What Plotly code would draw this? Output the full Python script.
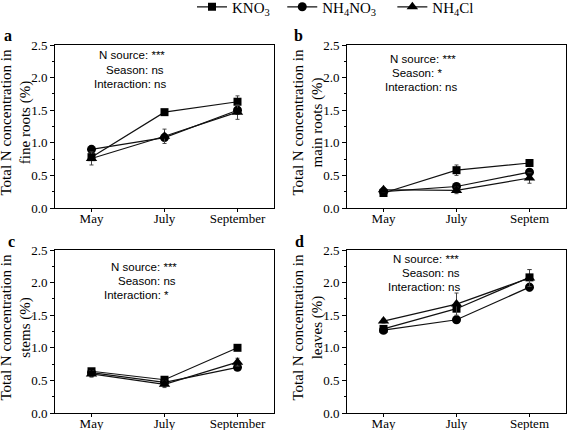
import plotly.graph_objects as go

W, H = 568, 430

months = ["May", "July", "September"]
tick_left = ["May", "July", "September"]
tick_right = ["May", "July", "Septem"]

series_names = ["KNO<sub>3</sub>", "NH<sub>4</sub>NO<sub>3</sub>", "NH<sub>4</sub>Cl"]
legend_pad = ["\u00a0\u00a0", "\u00a0\u00a0\u00a0", ""]

# Panel a: fine roots
a_kno3 = [0.78, 1.47, 1.63]
a_nh4no3 = [0.90, 1.08, 1.50]
a_nh4cl = [0.76, 1.10, 1.47]
a_kno3_err = [0.03, 0.02, 0.09]
a_nh4no3_err = [0.03, 0.04, 0.05]
a_nh4cl_err = [0.10, 0.11, 0.11]

# Panel b: main roots
b_kno3 = [0.23, 0.58, 0.69]
b_nh4no3 = [0.25, 0.33, 0.55]
b_nh4cl = [0.28, 0.27, 0.46]
b_kno3_err = [0.02, 0.08, 0.03]
b_nh4no3_err = [0.02, 0.04, 0.04]
b_nh4cl_err = [0.03, 0.05, 0.08]

# Panel c: stems
c_kno3 = [0.64, 0.51, 1.00]
c_nh4no3 = [0.62, 0.47, 0.70]
c_nh4cl = [0.60, 0.44, 0.78]
c_kno3_err = [0.03, 0.03, 0.04]
c_nh4no3_err = [0.02, 0.03, 0.03]
c_nh4cl_err = [0.05, 0.05, 0.06]

# Panel d: leaves
d_kno3 = [1.29, 1.60, 2.08]
d_nh4no3 = [1.27, 1.43, 1.93]
d_nh4cl = [1.41, 1.67, 2.07]
d_kno3_err = [0.03, 0.04, 0.12]
d_nh4no3_err = [0.03, 0.04, 0.06]
d_nh4cl_err = [0.03, 0.17, 0.13]

ylabels = [
    "Total N concentration in<br>fine roots (%)",
    "Total N concentration in<br>main roots (%)",
    "Total N concentration in<br>stems (%)",
    "Total N concentration in<br>leaves (%)",
]
letters = ["a", "b", "c", "d"]
stats = [
    ["N source: ***", "Season: ns", "Interaction: ns"],
    ["N source: ***", "Season: *", "Interaction: ns"],
    ["N source: ***", "Season: ns", "Interaction: *"],
    ["N source: ***", "Season: ns", "Interaction: ns"],
]

panels = [
    ([a_kno3, a_nh4no3, a_nh4cl], [a_kno3_err, a_nh4no3_err, a_nh4cl_err]),
    ([b_kno3, b_nh4no3, b_nh4cl], [b_kno3_err, b_nh4no3_err, b_nh4cl_err]),
    ([c_kno3, c_nh4no3, c_nh4cl], [c_kno3_err, c_nh4no3_err, c_nh4cl_err]),
    ([d_kno3, d_nh4no3, d_nh4cl], [d_kno3_err, d_nh4no3_err, d_nh4cl_err]),
]

def px(x):
    return x / W

def py(y):
    return 1 - y / H

# layout geometry (pixels)
xdom = [(55, 274), (347, 566), (55, 274), (347, 566)]
ydom = [(45, 208), (45, 208), (250, 413), (250, 413)]
letter_pos = [(8, 36), (298, 36), (11, 241), (299, 241)]
ylab_x = [16, 308, 16, 308]
stat_pos = [
    [(132, 55), (135, 70), (130, 84)],
    [(423, 59), (417, 73), (421, 87)],
    [(144, 267), (147, 281), (136, 295)],
    [(426, 259), (431, 273), (424, 287)],
]

symbols = ["square", "circle", "triangle-up"]
sizes = [8, 9, 10]

serif = "Liberation Serif"
sans = "Liberation Sans"

fig = go.Figure()
annotations = []

for i, (vals, errs) in enumerate(panels):
    xa = "x" if i == 0 else f"x{i+1}"
    ya = "y" if i == 0 else f"y{i+1}"
    for j in range(3):
        fig.add_trace(go.Scatter(
            x=months, y=vals[j], xaxis=xa, yaxis=ya,
            mode="lines+markers",
            name=series_names[j] + legend_pad[j],
            showlegend=(i == 0),
            line=dict(color="#111111", width=1.2),
            marker=dict(symbol=symbols[j], size=sizes[j], color="#000000"),
            error_y=dict(type="data", array=errs[j], visible=True,
                         color="#444444", thickness=1, width=2),
        ))
    axn = "" if i == 0 else str(i + 1)
    fig.layout["xaxis" + axn] = dict(
        domain=[px(xdom[i][0]), px(xdom[i][1])],
        anchor=ya, type="category", range=[-0.5, 2.5],
        tickmode="array", tickvals=months,
        ticktext=tick_left if i % 2 == 0 else tick_right,
        showline=True, linecolor="#000000", linewidth=1, mirror=True,
        ticks="outside", ticklen=3, tickcolor="#000000",
        ticklabelstandoff=-5,
        tickfont=dict(family=serif, size=13, color="#000000"),
        showgrid=False, zeroline=False, automargin=False,
    )
    fig.layout["yaxis" + axn] = dict(
        domain=[py(ydom[i][1]), py(ydom[i][0])],
        anchor=xa, range=[0, 2.5], dtick=0.5, tickformat=".1f",
        showline=True, linecolor="#000000", linewidth=1, mirror=True,
        ticks="outside", ticklen=4, tickcolor="#000000",
        minor=dict(dtick=0.25, ticks="outside", ticklen=2, tickcolor="#000000"),
        tickfont=dict(family=serif, size=13, color="#000000"),
        showgrid=False, zeroline=False, automargin=False,
    )
    annotations.append(dict(
        text=ylabels[i], textangle=-90, xref="paper", yref="paper",
        x=px(ylab_x[i]), y=py((ydom[i][0] + ydom[i][1]) / 2 - 4),
        xanchor="center", yanchor="middle", showarrow=False,
        font=dict(family=serif, size=15, color="#000000"),
    ))
    annotations.append(dict(
        text="<b>" + letters[i] + "</b>", xref="paper", yref="paper",
        x=px(letter_pos[i][0]), y=py(letter_pos[i][1]),
        xanchor="center", yanchor="middle", showarrow=False,
        font=dict(family=serif, size=16, color="#000000"),
    ))
    for k, line in enumerate(stats[i]):
        annotations.append(dict(
            text=line, xref="paper", yref="paper",
            x=px(stat_pos[i][k][0]), y=py(stat_pos[i][k][1]),
            xanchor="center", yanchor="middle", showarrow=False,
            font=dict(family=sans, size=11.5, color="#000000"),
        ))

fig.update_layout(
    width=W, height=H,
    margin=dict(l=0, r=0, t=0, b=0, autoexpand=False),
    paper_bgcolor="#ffffff", plot_bgcolor="#ffffff",
    annotations=annotations,
    legend=dict(
        orientation="h", x=px(192), y=1.022, xanchor="left", yanchor="top",
        font=dict(family=serif, size=15, color="#000000"),
        itemwidth=30, tracegroupgap=0, bgcolor="rgba(0,0,0,0)",
    ),
)

fig.write_html("out.html", config={"displayModeBar": False},
               post_script="document.body.style.margin='0';document.body.style.padding='0';")
